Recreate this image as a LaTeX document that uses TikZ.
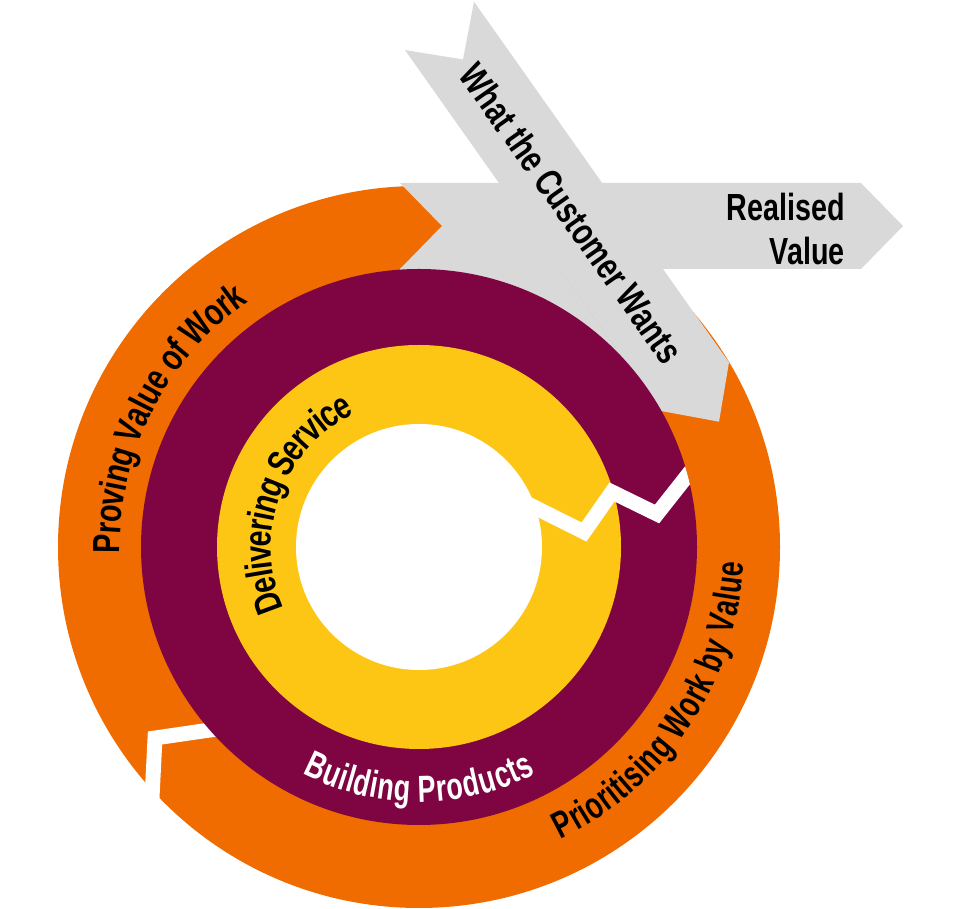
\documentclass[tikz,border=0pt]{standalone}
\usepackage{fontspec}
\newfontfamily\lblfont[FakeStretch=0.76]{Liberation Sans}
\newfontfamily\arcfont[FakeStretch=0.71]{Liberation Sans}
\usetikzlibrary{decorations.text}
\definecolor{ringorange}{RGB}{240,108,0}
\definecolor{ringplum}{RGB}{127,4,66}
\definecolor{ringgold}{RGB}{254,198,20}
\definecolor{bandgrey}{RGB}{217,217,217}
\newcommand{\lblsize}{\lblfont\bfseries\fontsize{21.5}{25}\selectfont}
\newcommand{\arcsize}{\arcfont\bfseries\fontsize{21.5}{25}\selectfont}

\tikzset{
	ringlabel/.style={decorate, decoration={text along path, text align=center, raise=-7.7pt, text format delimiters={|}{|}}},
	ringcut/.style={white, line width=8.5pt, line join=miter},
	bandlabel/.style={font=\lblsize, inner sep=0pt},
}

\begin{document}
\begin{tikzpicture}[x=0.02cm, y=0.02cm]
	\def\rOut{361}
	\def\rPlum{278}
	\def\rGold{202}
	\def\rHole{123}
	\useasboundingbox (0,0) rectangle (960,909);
	\coordinate (c) at (419,362);
	\fill[ringorange] (c) circle[radius=\rOut];
	% grey chevrons
	\fill[bandgrey] (400,726) -- (861,726) -- (903,683) -- (861,640) -- (400,640) -- (442,683) -- cycle;
	\fill[bandgrey] (474,907.3) -- (729,546.6) -- (719,487.3) -- (660,498.2) -- (405,858.9) -- (463,849.6) -- cycle;
	\fill[bandgrey] (400,640) -- (560,640) -- (660,498.2) -- (c) -- cycle;
	% break in the orange ring
	\draw[ringcut] (250,184.8) -- (155,171) -- (151,91);
	\fill[ringplum] (c) circle[radius=\rPlum];
	\fill[ringgold] (c) circle[radius=\rGold];
	\fill[white] (c) circle[radius=\rHole];
	\begin{scope}
		\clip (c) circle[radius=\rPlum];
		\draw[ringcut] (520,409) -- (540,399) -- (584,377) -- (612,417) -- (657,395) -- (700,449.5);
	\end{scope}
	\node[bandlabel, rotate=-54.7] (wants) at (571.8,695.8) {What the Customer Wants};
	\node[bandlabel, anchor=east, align=right] (realised) at (845,680) {Realised\\Value};
	\begin{scope}[shift={(c)}]
		\path[ringlabel, decoration={text={|\lblsize|Proving Value of Work}}]
			(199:312.5) arc[start angle=199, end angle=107, radius=312.5];
		\path[ringlabel, decoration={text={|\lblsize|Delivering Service}}]
			(222:161.5) arc[start angle=222, end angle=98, radius=161.5];
		\path[ringlabel, decoration={text={|\arcsize\color{white}|Building Products}}]
			(230:241.5) arc[start angle=230, end angle=310, radius=241.5];
		\path[ringlabel, decoration={text={|\arcsize|Prioritising Work by Value}}]
			(285.5:311.5) arc[start angle=285.5, end angle=367.5, radius=311.5];
	\end{scope}
\end{tikzpicture}
\end{document}
